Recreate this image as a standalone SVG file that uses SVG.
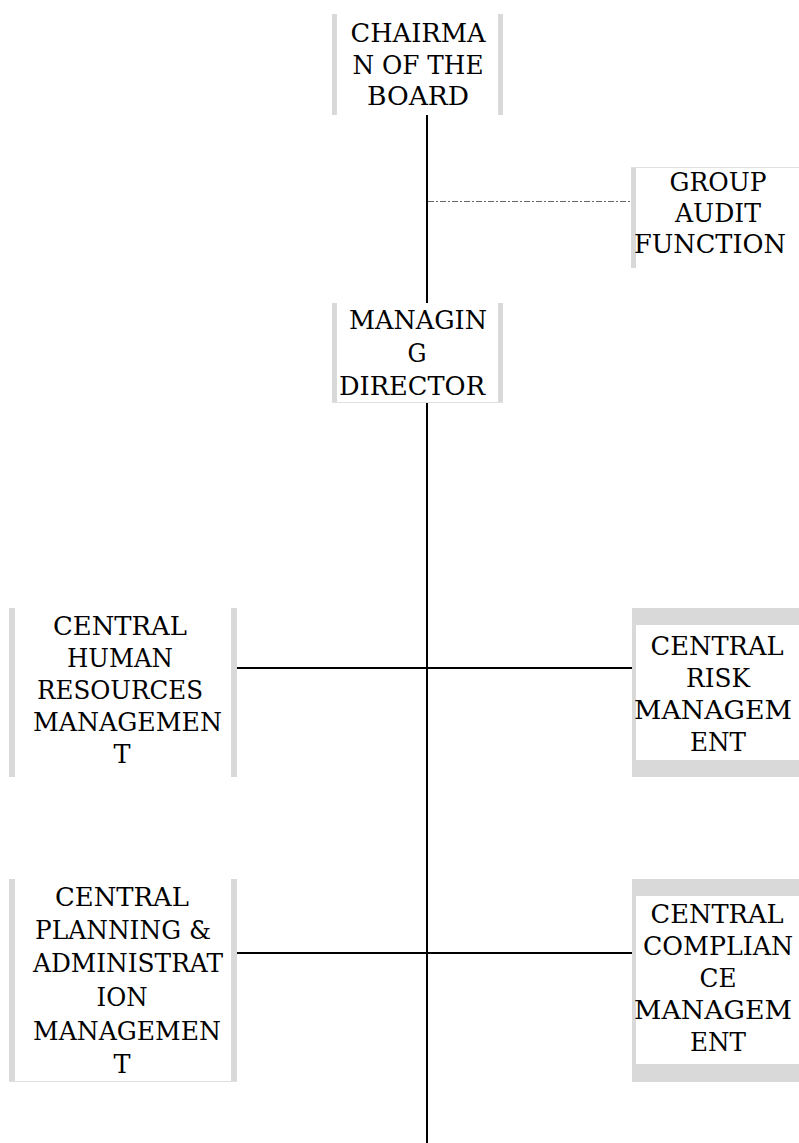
<svg xmlns="http://www.w3.org/2000/svg" width="799" height="1143" viewBox="0 0 799 1143">
<style>
text{font-family:"DejaVu Serif","Liberation Serif",serif;font-size:26.5px;fill:#000}
.t{text-anchor:middle}
.s{text-anchor:start}
.bar{fill:#d9d9d9}
.edge{stroke:#e0e0e0;stroke-width:1;fill:none}
.ln{stroke:#000;stroke-width:2;fill:none}
.dash{stroke:#666;stroke-width:1;stroke-dasharray:6 2 2 2;fill:none}
</style>
<rect width="799" height="1143" fill="#fff"/>
<g id="connectors">
<line class="ln" x1="427" y1="115" x2="427" y2="303"/>
<line class="ln" x1="427" y1="403" x2="427" y2="1143"/>
<line class="dash" x1="428" y1="201.5" x2="631" y2="201.5"/>
<line class="ln" x1="237" y1="668" x2="632" y2="668"/>
<line class="ln" x1="237" y1="953" x2="632" y2="953"/>
</g>
<g id="chairman">
<rect class="bar" x="332" y="14" width="5" height="101"/>
<rect class="bar" x="498" y="14" width="5" height="101"/>
<text class="t" x="418" y="42" textLength="135" lengthAdjust="spacingAndGlyphs">CHAIRMA</text>
<text class="t" x="418" y="74" textLength="131" lengthAdjust="spacingAndGlyphs">N OF THE</text>
<text class="t" x="418" y="105" textLength="102" lengthAdjust="spacingAndGlyphs">BOARD</text>
</g>
<g id="group-audit">
<rect class="bar" x="631" y="167" width="5" height="101"/>
<line class="edge" x1="631" y1="167.5" x2="799" y2="167.5"/>
<text class="t" x="718" y="191" textLength="97" lengthAdjust="spacingAndGlyphs">GROUP</text>
<text class="t" x="718" y="222" textLength="86" lengthAdjust="spacingAndGlyphs">AUDIT</text>
<text class="s" x="634" y="253" textLength="152" lengthAdjust="spacingAndGlyphs">FUNCTION</text>
</g>
<g id="managing-director">
<rect class="bar" x="332" y="303" width="5" height="100"/>
<rect class="bar" x="498" y="303" width="5" height="100"/>
<line class="edge" x1="332" y1="402.5" x2="503" y2="402.5"/>
<text class="t" x="418" y="329" textLength="138" lengthAdjust="spacingAndGlyphs">MANAGIN</text>
<text class="t" x="417" y="362" textLength="19" lengthAdjust="spacingAndGlyphs">G</text>
<text class="s" x="339" y="395" textLength="146" lengthAdjust="spacingAndGlyphs">DIRECTOR</text>
</g>
<g id="central-hr">
<rect class="bar" x="9" y="608" width="6" height="169"/>
<rect class="bar" x="231" y="608" width="6" height="169"/>
<text class="t" x="120" y="635" textLength="134" lengthAdjust="spacingAndGlyphs">CENTRAL</text>
<text class="t" x="120" y="667" textLength="106" lengthAdjust="spacingAndGlyphs">HUMAN</text>
<text class="t" x="120" y="699" textLength="166" lengthAdjust="spacingAndGlyphs">RESOURCES</text>
<text class="s" x="33" y="731" textLength="189" lengthAdjust="spacingAndGlyphs">MANAGEMEN</text>
<text class="t" x="122" y="763" textLength="17" lengthAdjust="spacingAndGlyphs">T</text>
</g>
<g id="central-risk">
<rect class="bar" x="632" y="608" width="170" height="169"/>
<rect x="636" y="625" width="170" height="135" fill="#fff"/>
<text class="t" x="717" y="655" textLength="133" lengthAdjust="spacingAndGlyphs">CENTRAL</text>
<text class="t" x="718" y="687" textLength="64" lengthAdjust="spacingAndGlyphs">RISK</text>
<text class="s" x="634" y="719" textLength="158" lengthAdjust="spacingAndGlyphs">MANAGEM</text>
<text class="t" x="718" y="751" textLength="56" lengthAdjust="spacingAndGlyphs">ENT</text>
</g>
<g id="central-planning">
<rect class="bar" x="9" y="879" width="6" height="203"/>
<rect class="bar" x="231" y="879" width="6" height="203"/>
<line class="edge" x1="9" y1="1081.5" x2="237" y2="1081.5"/>
<text class="t" x="122" y="906" textLength="134" lengthAdjust="spacingAndGlyphs">CENTRAL</text>
<text class="t" x="123" y="939" textLength="176" lengthAdjust="spacingAndGlyphs">PLANNING &amp;</text>
<text class="s" x="33" y="972" textLength="190" lengthAdjust="spacingAndGlyphs">ADMINISTRAT</text>
<text class="t" x="122" y="1006" textLength="51" lengthAdjust="spacingAndGlyphs">ION</text>
<text class="s" x="33" y="1040" textLength="188" lengthAdjust="spacingAndGlyphs">MANAGEMEN</text>
<text class="t" x="122" y="1073" textLength="17" lengthAdjust="spacingAndGlyphs">T</text>
</g>
<g id="central-compliance">
<rect class="bar" x="632" y="879" width="170" height="203"/>
<rect x="636" y="896" width="170" height="168" fill="#fff"/>
<text class="t" x="717" y="923" textLength="133" lengthAdjust="spacingAndGlyphs">CENTRAL</text>
<text class="t" x="718" y="955" textLength="150" lengthAdjust="spacingAndGlyphs">COMPLIAN</text>
<text class="t" x="718" y="987" textLength="37" lengthAdjust="spacingAndGlyphs">CE</text>
<text class="s" x="634" y="1019" textLength="158" lengthAdjust="spacingAndGlyphs">MANAGEM</text>
<text class="t" x="718" y="1051" textLength="56" lengthAdjust="spacingAndGlyphs">ENT</text>
</g>
</svg>
